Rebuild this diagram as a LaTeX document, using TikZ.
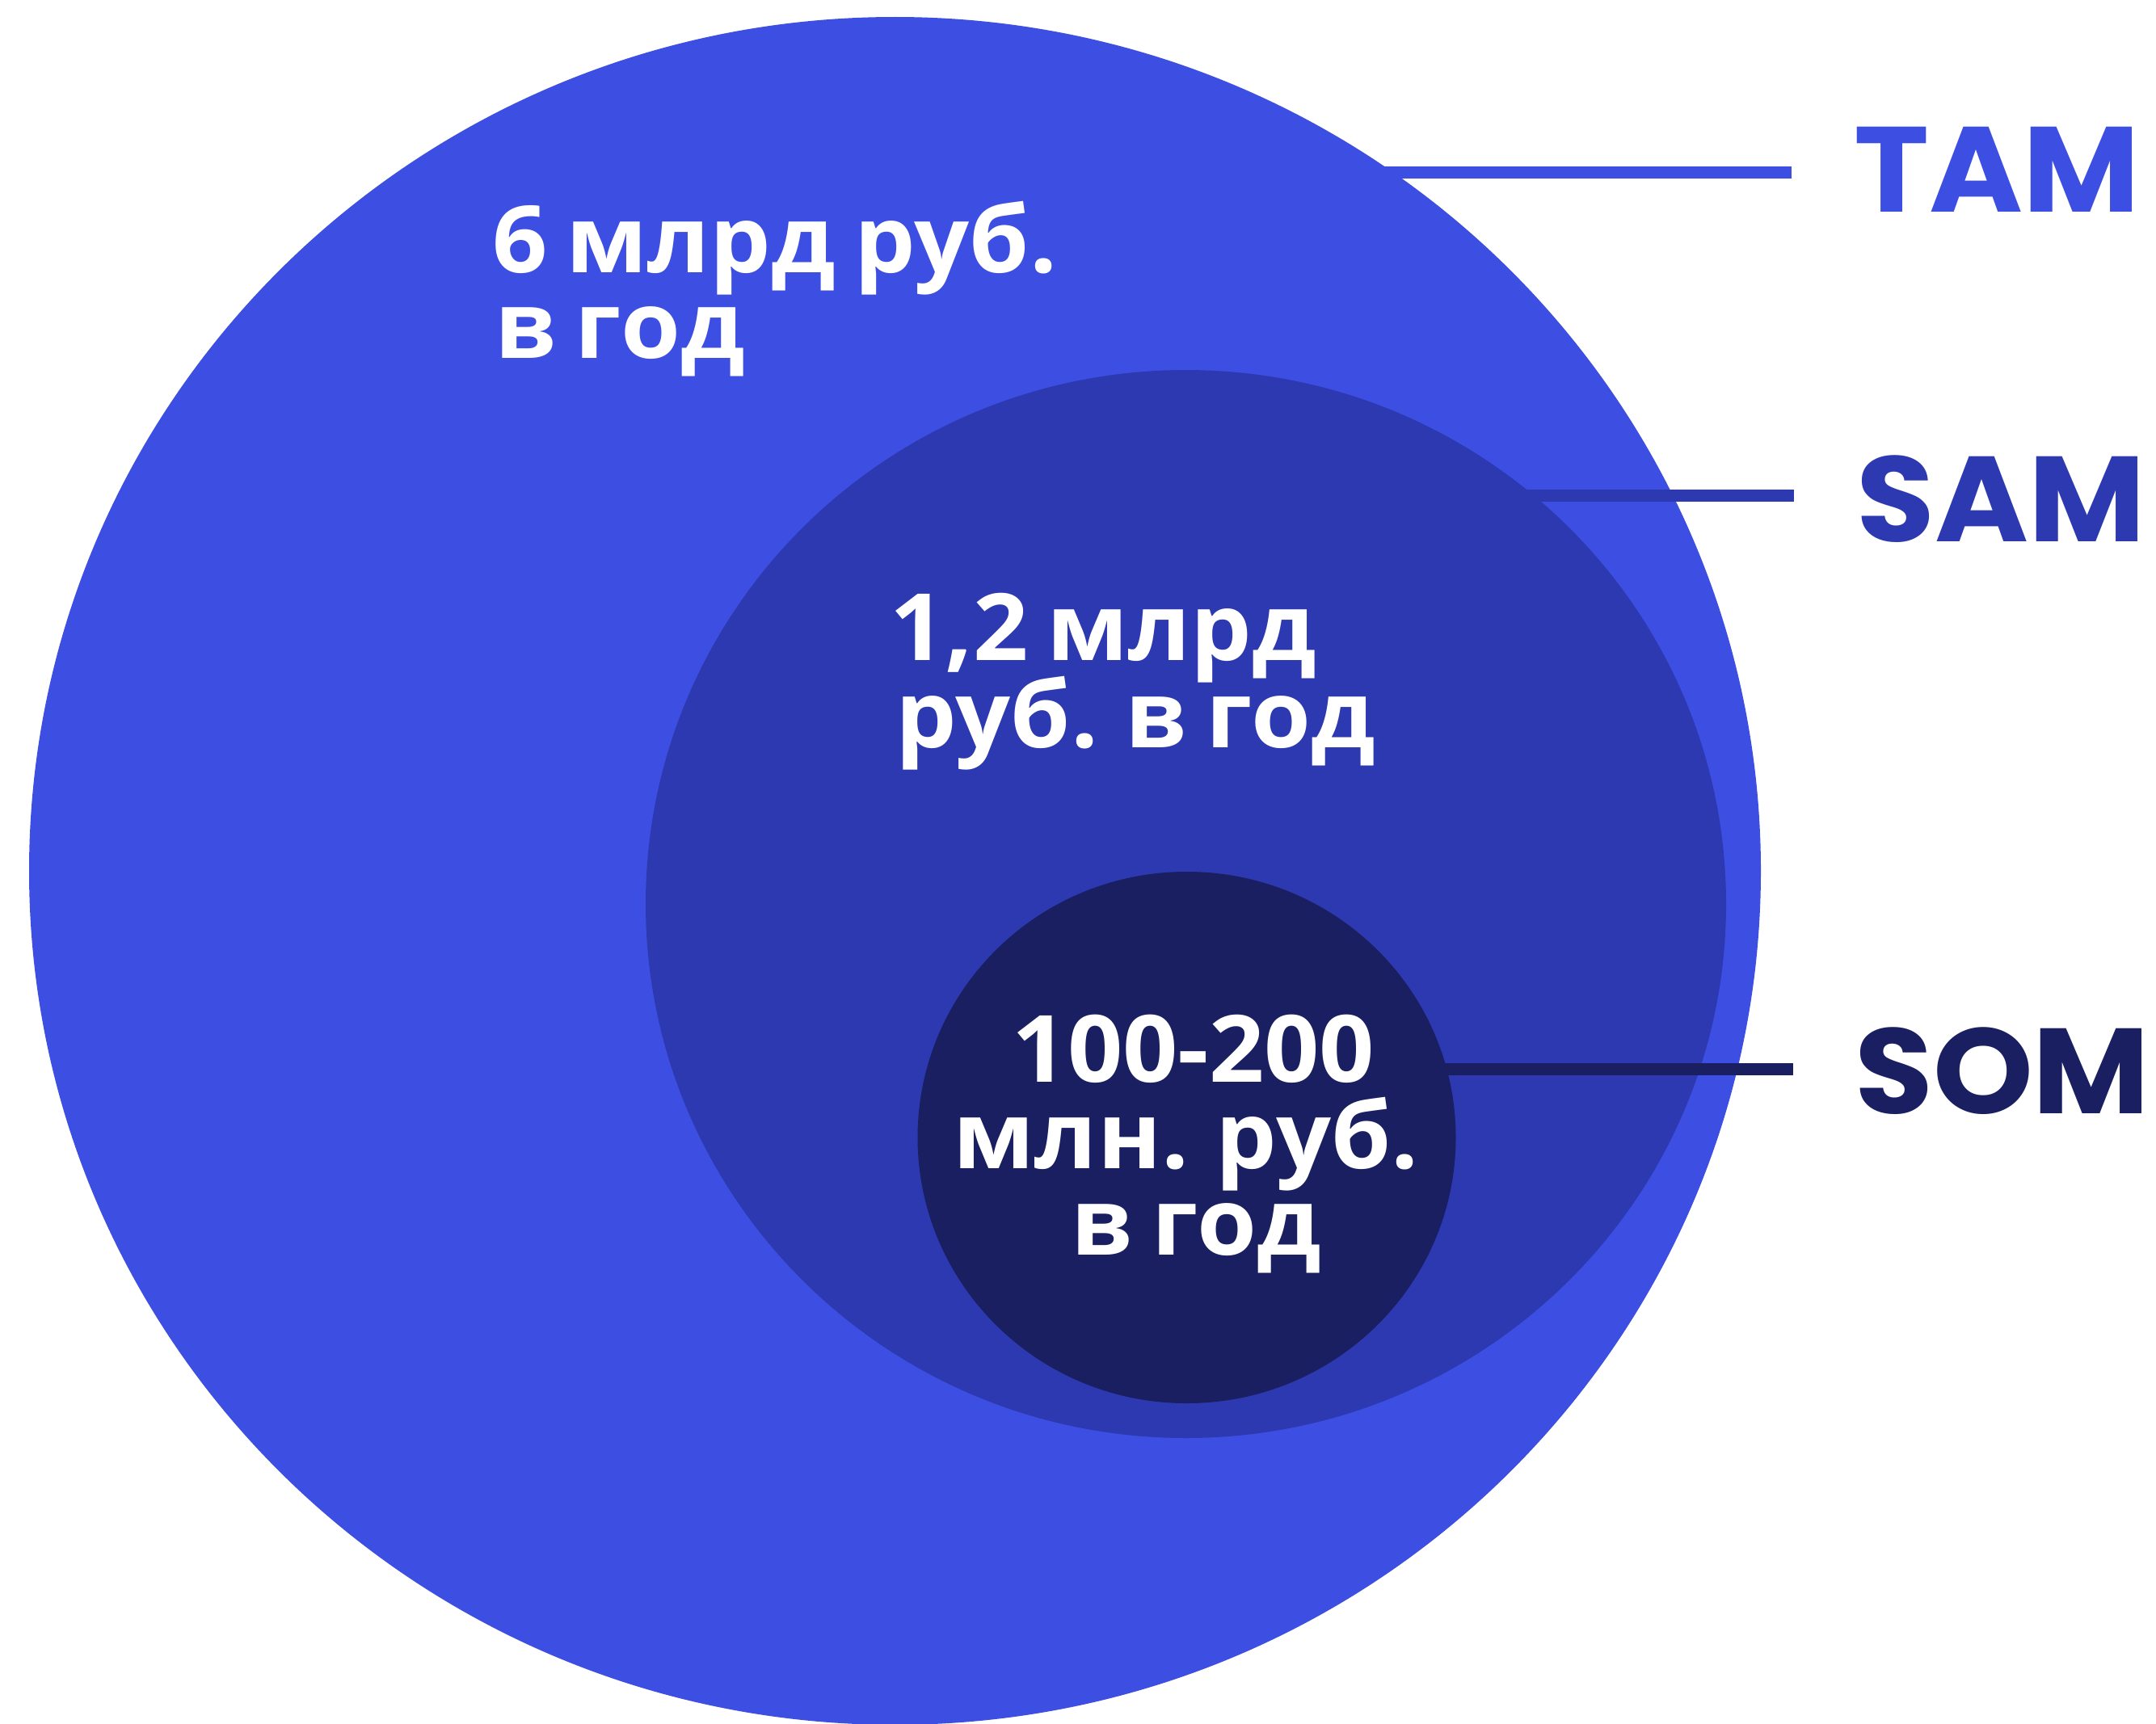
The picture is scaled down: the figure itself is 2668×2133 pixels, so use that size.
\documentclass[tikz,border=0pt]{standalone}
\usepackage{fontspec}
\setmainfont{Open Sans}[FakeStretch=1.04,WordSpace=0.75]
\newfontfamily\latinfont{Poppins}[FakeStretch=1.05]
\definecolor{tamc}{HTML}{3D4FE3}
\definecolor{samc}{HTML}{2D39B0}
\definecolor{somc}{HTML}{1A1F62}
\tikzset{
  valtext/.style={inner sep=0pt, text=white, align=left,
    font=\bfseries\fontsize{115}{107}\selectfont},
  labtext/.style={inner sep=0pt, anchor=base west,
    font=\latinfont\bfseries\fontsize{150}{150}\selectfont},
  leader/.style={line width=15.5pt}
}
\begin{document}
\begin{tikzpicture}[x=1pt,y=-1pt]
\useasboundingbox (0,0) rectangle (2668,2133);
\fill[white] (0,0) rectangle (2668,2133);
% TAM
\fill[tamc] (1107.5,1078) ellipse [x radius=1071.5pt, y radius=1057pt];
\coordinate (tamA) at (1650,213.5);
\coordinate (tamB) at (2217,213.5);
\draw[leader, tamc] (tamA) -- (tamB);
% SAM
\fill[samc] (1467.5,1119) ellipse [x radius=668.5pt, y radius=661pt];
\coordinate (samA) at (1850,613.5);
\coordinate (samB) at (2220,613.5);
\draw[leader, samc] (samA) -- (samB);
% SOM
\fill[somc] (1468.5,1408) ellipse [x radius=333pt, y radius=329pt];
\coordinate (somA) at (1760,1323.5);
\coordinate (somB) at (2219,1323.5);
\draw[leader, somc] (somA) -- (somB);
% labels
\node[labtext, text=tamc] (tam) at (2294,262) {TAM};
\node[labtext, text=samc] (sam) at (2297,670) {SAM};
\node[labtext, text=somc] (som) at (2295,1378) {SOM};
% values
\node[valtext, anchor=base west] (v1a) at (609,337) {6 млрд руб.};
\node[valtext, anchor=base west] (v1b) at (612,443) {в год};
\node[valtext, anchor=base west] (v2a) at (1101,817) {1,2 млрд};
\node[valtext, anchor=base west] (v2b) at (1108,925) {руб. в год};
\node[valtext, anchor=base] (v3a) at (1477,1339) {100-200};
\node[valtext, anchor=base] (v3b) at (1468,1446) {млн. руб.};
\node[valtext, anchor=base] (v3c) at (1480,1553) {в год};
\end{tikzpicture}
\end{document}
